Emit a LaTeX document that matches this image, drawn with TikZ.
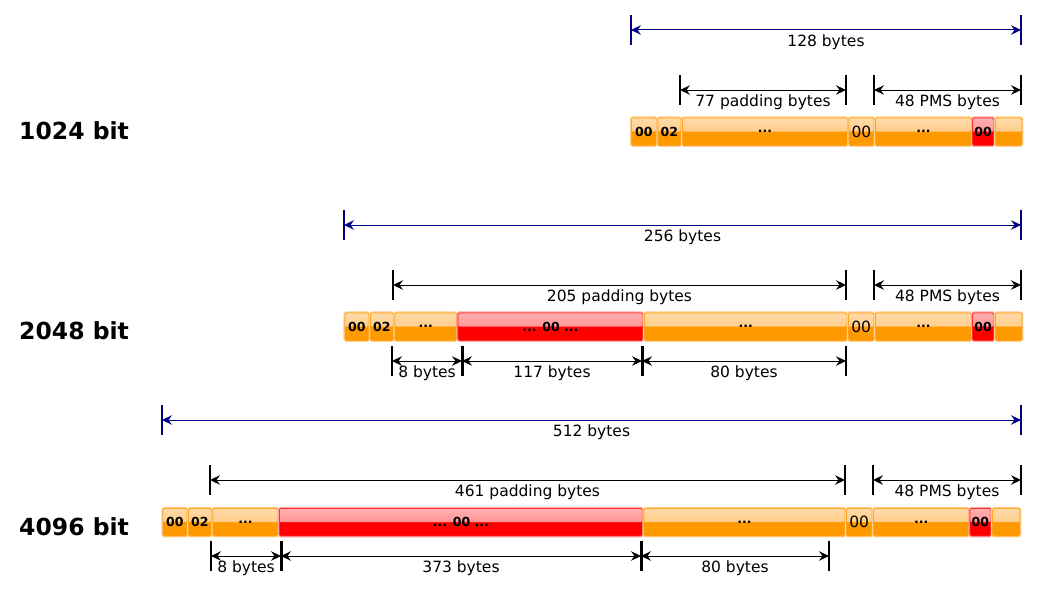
\documentclass[tikz,border=0pt]{standalone}
\usepackage{fontspec}
\setmainfont{DejaVu Sans}
\usetikzlibrary{arrows.meta,calc}
\definecolor{obot}{HTML}{FF9900}
\definecolor{otop}{HTML}{FFDBAA}
\definecolor{omid}{HTML}{FFBE68}
\definecolor{obord}{HTML}{FFA526}
\definecolor{ohalo}{HTML}{FFD08C}
\definecolor{rbot}{HTML}{FF0000}
\definecolor{rtop}{HTML}{FFB0B0}
\definecolor{rmid}{HTML}{FF7A7A}
\definecolor{rbord}{HTML}{FF3030}
\definecolor{rhalo}{HTML}{FFA8A8}
\definecolor{dimblue}{HTML}{000080}
\tikzset{
  cellbase/.style={inner sep=0pt, minimum height=27.5pt, rounded corners=1.5pt, line width=0.8pt,
    font=\fontsize{12.5}{14}\selectfont\bfseries},
  ocell/.style={cellbase, draw=obord, fill=obot,
    preaction={draw=ohalo, line width=3pt},
    path picture={\shade[top color=otop, bottom color=omid]
      (path picture bounding box.north west) rectangle (path picture bounding box.east);}},
  rcell/.style={cellbase, draw=rbord, fill=rbot,
    preaction={draw=rhalo, line width=3pt},
    path picture={\shade[top color=rtop, bottom color=rmid]
      (path picture bounding box.north west) rectangle (path picture bounding box.east);}},
  regtext/.style={font=\fontsize{15.5}{17}\selectfont},
  dimarrow/.style={line width=1pt, {Stealth[length=10pt,width=9.5pt,inset=3.5pt]}-{Stealth[length=10pt,width=9.5pt,inset=3.5pt]}},
  dimlabel/.style={font=\fontsize{15.5}{18}\selectfont, anchor=base, inner sep=0pt, text=black},
  rowlabel/.style={font=\fontsize{23.5}{28}\selectfont\bfseries, anchor=base west, inner sep=0pt},
}
% cell: name, x1, x2, ytop, style, text
\newcommand\cellat[6]{%
  \pgfmathsetmacro\cellw{#3-#2}%
  \node[#5, minimum width=\cellw pt, anchor=north west] (#1) at (#2,#4) {#6};}
% tick: name, x, y, width, colour
\newcommand\dimtick[5]{%
  \coordinate (#1u) at (#2,#3-15);
  \coordinate (#1d) at (#2,#3+15);
  \draw[line width=#4, #5] (#1u) -- (#1d);}
% dimension: name, tickA, tickB, y, label, colour
\newcommand\dimseg[6]{%
  \coordinate (#1a) at (#2u |- 0,#4);
  \coordinate (#1b) at (#3u |- 0,#4);
  \draw[dimarrow, #6] (#1a) -- (#1b);
  \node[dimlabel] (#1l) at ($(#1a)!0.5!(#1b)+(0,16)$) {#5};}
\begin{document}
\begin{tikzpicture}[x=1pt,y=-1pt]
\useasboundingbox (0,0) rectangle (1040,594);

% ---------- row labels
\node[rowlabel] (l1) at (19,139.3) {1024 bit};
\node[rowlabel] (l2) at (19,339.3) {2048 bit};
\node[rowlabel] (l3) at (19,535.5) {4096 bit};

% ---------- 1024
\dimtick{t1a}{631}{30}{2pt}{dimblue}
\dimtick{t1b}{1021}{30}{2pt}{dimblue}
\dimseg{d1a}{t1a}{t1b}{30}{128 bytes}{dimblue}
\dimtick{t1c}{680}{90}{2pt}{black}
\dimtick{t1d}{846}{90}{2pt}{black}
\dimseg{d1b}{t1c}{t1d}{90}{77 padding bytes}{black}
\dimtick{t1e}{874}{90}{2pt}{black}
\dimtick{t1f}{1021}{90}{2pt}{black}
\dimseg{d1c}{t1e}{t1f}{90}{48 PMS bytes}{black}

\cellat{a1}{631}{656}{117.5}{ocell}{00}
\cellat{a2}{657.5}{680.5}{117.5}{ocell}{02}
\cellat{a3}{682}{847}{117.5}{ocell}{...}
\cellat{a4}{848.5}{873.5}{117.5}{ocell,regtext}{00}
\cellat{a5}{875}{971}{117.5}{ocell}{...}
\cellat{a6}{972}{993.5}{117.5}{rcell}{00}
\cellat{a7}{995}{1021.5}{117.5}{ocell}{}

% ---------- 2048
\dimtick{t2a}{344}{225}{2pt}{dimblue}
\dimtick{t2b}{1021}{225}{2pt}{dimblue}
\dimseg{d2a}{t2a}{t2b}{225}{256 bytes}{dimblue}
\dimtick{t2c}{393}{285}{2pt}{black}
\dimtick{t2d}{846}{285}{2pt}{black}
\dimseg{d2b}{t2c}{t2d}{285}{205 padding bytes}{black}
\dimtick{t2e}{874}{285}{2pt}{black}
\dimtick{t2f}{1021}{285}{2pt}{black}
\dimseg{d2c}{t2e}{t2f}{285}{48 PMS bytes}{black}

\cellat{b1}{344.5}{368.5}{312.5}{ocell}{00}
\cellat{b2}{370}{393}{312.5}{ocell}{02}
\cellat{b3}{394.5}{456}{312.5}{ocell}{...}
\cellat{b4}{457.5}{642.5}{312.5}{rcell}{... 00 ...}
\cellat{b5}{644}{846.5}{312.5}{ocell}{...}
\cellat{b6}{848}{873.5}{312.5}{ocell,regtext}{00}
\cellat{b7}{875}{971}{312.5}{ocell}{...}
\cellat{b8}{972}{993.5}{312.5}{rcell}{00}
\cellat{b9}{995}{1021.5}{312.5}{ocell}{}

\dimtick{t2g}{392}{361}{2pt}{black}
\dimtick{t2h}{462}{361}{3pt}{black}
\dimtick{t2i}{642}{361}{3pt}{black}
\dimtick{t2j}{846}{361}{2pt}{black}
\dimseg{d2d}{t2g}{t2h}{361}{8 bytes}{black}
\dimseg{d2e}{t2h}{t2i}{361}{117 bytes}{black}
\dimseg{d2f}{t2i}{t2j}{361}{80 bytes}{black}

% ---------- 4096
\dimtick{t3a}{162}{420}{2pt}{dimblue}
\dimtick{t3b}{1021}{420}{2pt}{dimblue}
\dimseg{d3a}{t3a}{t3b}{420}{512 bytes}{dimblue}
\dimtick{t3c}{210}{480}{2pt}{black}
\dimtick{t3d}{845}{480}{2pt}{black}
\dimseg{d3b}{t3c}{t3d}{480}{461 padding bytes}{black}
\dimtick{t3e}{873}{480}{2pt}{black}
\dimtick{t3f}{1021}{480}{2pt}{black}
\dimseg{d3c}{t3e}{t3f}{480}{48 PMS bytes}{black}

\cellat{c1}{162.5}{186.5}{508}{ocell}{00}
\cellat{c2}{188}{211}{508}{ocell}{02}
\cellat{c3}{212.5}{277.5}{508}{ocell}{...}
\cellat{c4}{279}{642}{508}{rcell}{... 00 ...}
\cellat{c5}{643.5}{844.5}{508}{ocell}{...}
\cellat{c6}{846}{871.5}{508}{ocell,regtext}{00}
\cellat{c7}{873}{968.5}{508}{ocell}{...}
\cellat{c8}{969.5}{990.5}{508}{rcell}{00}
\cellat{c9}{992}{1019.5}{508}{ocell}{}

\dimtick{t3g}{211}{556}{2pt}{black}
\dimtick{t3h}{281}{556}{3pt}{black}
\dimtick{t3i}{641}{556}{3pt}{black}
\dimtick{t3j}{829}{556}{2pt}{black}
\dimseg{d3d}{t3g}{t3h}{556}{8 bytes}{black}
\dimseg{d3e}{t3h}{t3i}{556}{373 bytes}{black}
\dimseg{d3f}{t3i}{t3j}{556}{80 bytes}{black}
\end{tikzpicture}
\end{document}
